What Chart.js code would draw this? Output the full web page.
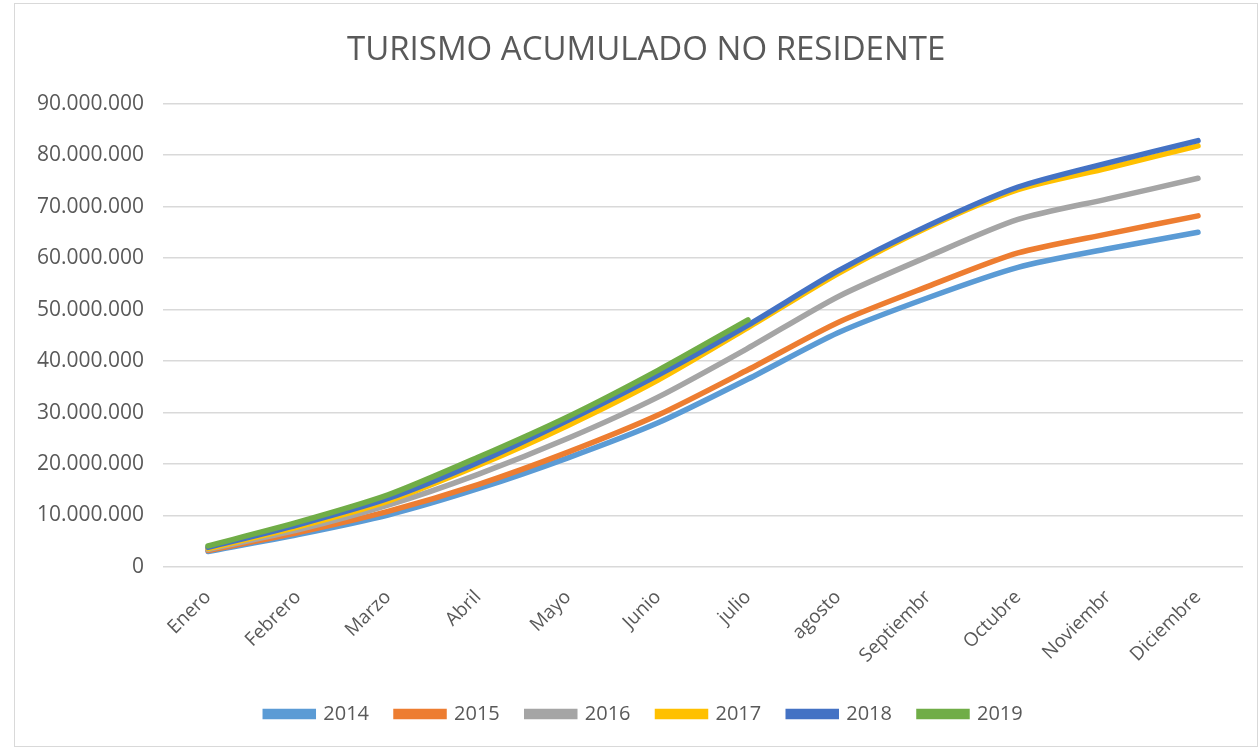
<!DOCTYPE html>
<html>
<head>
<meta charset="utf-8">
<script src="https://cdn.jsdelivr.net/npm/chart.js@4.4.1/dist/chart.umd.min.js"></script>
<style>
  html, body { margin: 0; padding: 0; background: #fff; }
  #frame {
    position: absolute; left: 14px; top: 3px;
    width: 1244px; height: 744px;
    border: 1px solid #d9d9d9; box-sizing: border-box;
  }
  #chart { display: block; }
</style>
</head>
<body>
<div id="frame"><canvas id="chart" width="1242" height="742"></canvas></div>
<script>
const months = ['Enero', 'Febrero', 'Marzo', 'Abril', 'Mayo', 'Junio', 'julio',
  'agosto', 'Septiembr', 'Octubre', 'Noviembr', 'Diciembre'];

const years = ['2014', '2015', '2016', '2017', '2018', '2019'];
const colors = ['#5B9BD5', '#ED7D31', '#A5A5A5', '#FFC000', '#4472C4', '#70AD47'];

// accumulated non-resident tourists
const s2014 = [3000000, 6300000, 10100000, 15200000, 21200000, 28000000, 36500000, 45500000, 52300000, 58200000, 61800000, 65000000];
const s2015 = [3200000, 6700000, 10800000, 16000000, 22300000, 29500000, 38300000, 47500000, 54500000, 61000000, 64700000, 68200000];
const s2016 = [3400000, 7200000, 12000000, 18000000, 25000000, 33000000, 42500000, 52500000, 60300000, 67500000, 71500000, 75500000];
const s2017 = [3600000, 7800000, 12800000, 19700000, 27500000, 36300000, 46500000, 57000000, 66000000, 73300000, 77500000, 81800000];
const s2018 = [3800000, 8200000, 13300000, 20300000, 28500000, 37300000, 47000000, 57500000, 66300000, 73800000, 78500000, 82800000];
const s2019 = [4100000, 8700000, 14000000, 21300000, 29200000, 38200000, 48000000];

const series = [s2014, s2015, s2016, s2017, s2018, s2019];

function fmt(v) {
  return String(v).replace(/\B(?=(\d{3})+(?!\d))/g, '.');
}

const datasets = series.map((d, i) => ({
  label: years[i],
  data: d,
  borderColor: colors[i],
  backgroundColor: colors[i],
  borderWidth: 5.5,
  borderCapStyle: 'round',
  pointRadius: 0,
  tension: 0.25,
  fill: false,
  order: series.length - i
}));

// the legend sits a bit right of centre in the original
const legendNudge = {
  id: 'legendNudge',
  afterLayout(chart) {
    chart.legend.left += 15;
    chart.legend.right += 15;
  }
};

const ctx = document.getElementById('chart').getContext('2d');
new Chart(ctx, {
  type: 'line',
  data: { labels: months, datasets: datasets },
  options: {
    responsive: false,
    animation: false,
    layout: { padding: { left: 0, right: 14, top: 0, bottom: 12 } },
    scales: {
      y: {
        min: 0,
        max: 90000000,
        ticks: {
          stepSize: 10000000,
          color: '#595959',
          padding: 19,
          font: { family: 'Open Sans', size: 21 },
          callback: v => fmt(v)
        },
        grid: { color: '#d9d9d9', lineWidth: 1.5, drawTicks: false },
        border: { display: false },
        afterFit: s => { s.width = 148; }
      },
      x: {
        offset: true,
        ticks: {
          color: '#595959',
          minRotation: 45,
          maxRotation: 45,
          padding: 11,
          font: { family: 'Open Sans', size: 19 }
        },
        grid: { display: false },
        border: { display: false },
        afterFit: s => { s.height = 110; }
      }
    },
    plugins: {
      title: {
        display: true,
        // leading spaces nudge the centred title to the right, as in the original
        text: '    TURISMO ACUMULADO NO RESIDENTE',
        color: '#595959',
        font: { family: 'Open Sans', size: 33, weight: 'normal' },
        padding: { top: 27, bottom: 33 }
      },
      legend: {
        position: 'bottom',
        labels: {
          color: '#595959',
          boxWidth: 48,
          boxHeight: 5,
          padding: 27,
          font: { family: 'Open Sans', size: 20 },
          sort: (a, b) => a.datasetIndex - b.datasetIndex
        }
      },
      tooltip: { enabled: false }
    }
  },
  plugins: [legendNudge]
});
</script>
</body>
</html>
